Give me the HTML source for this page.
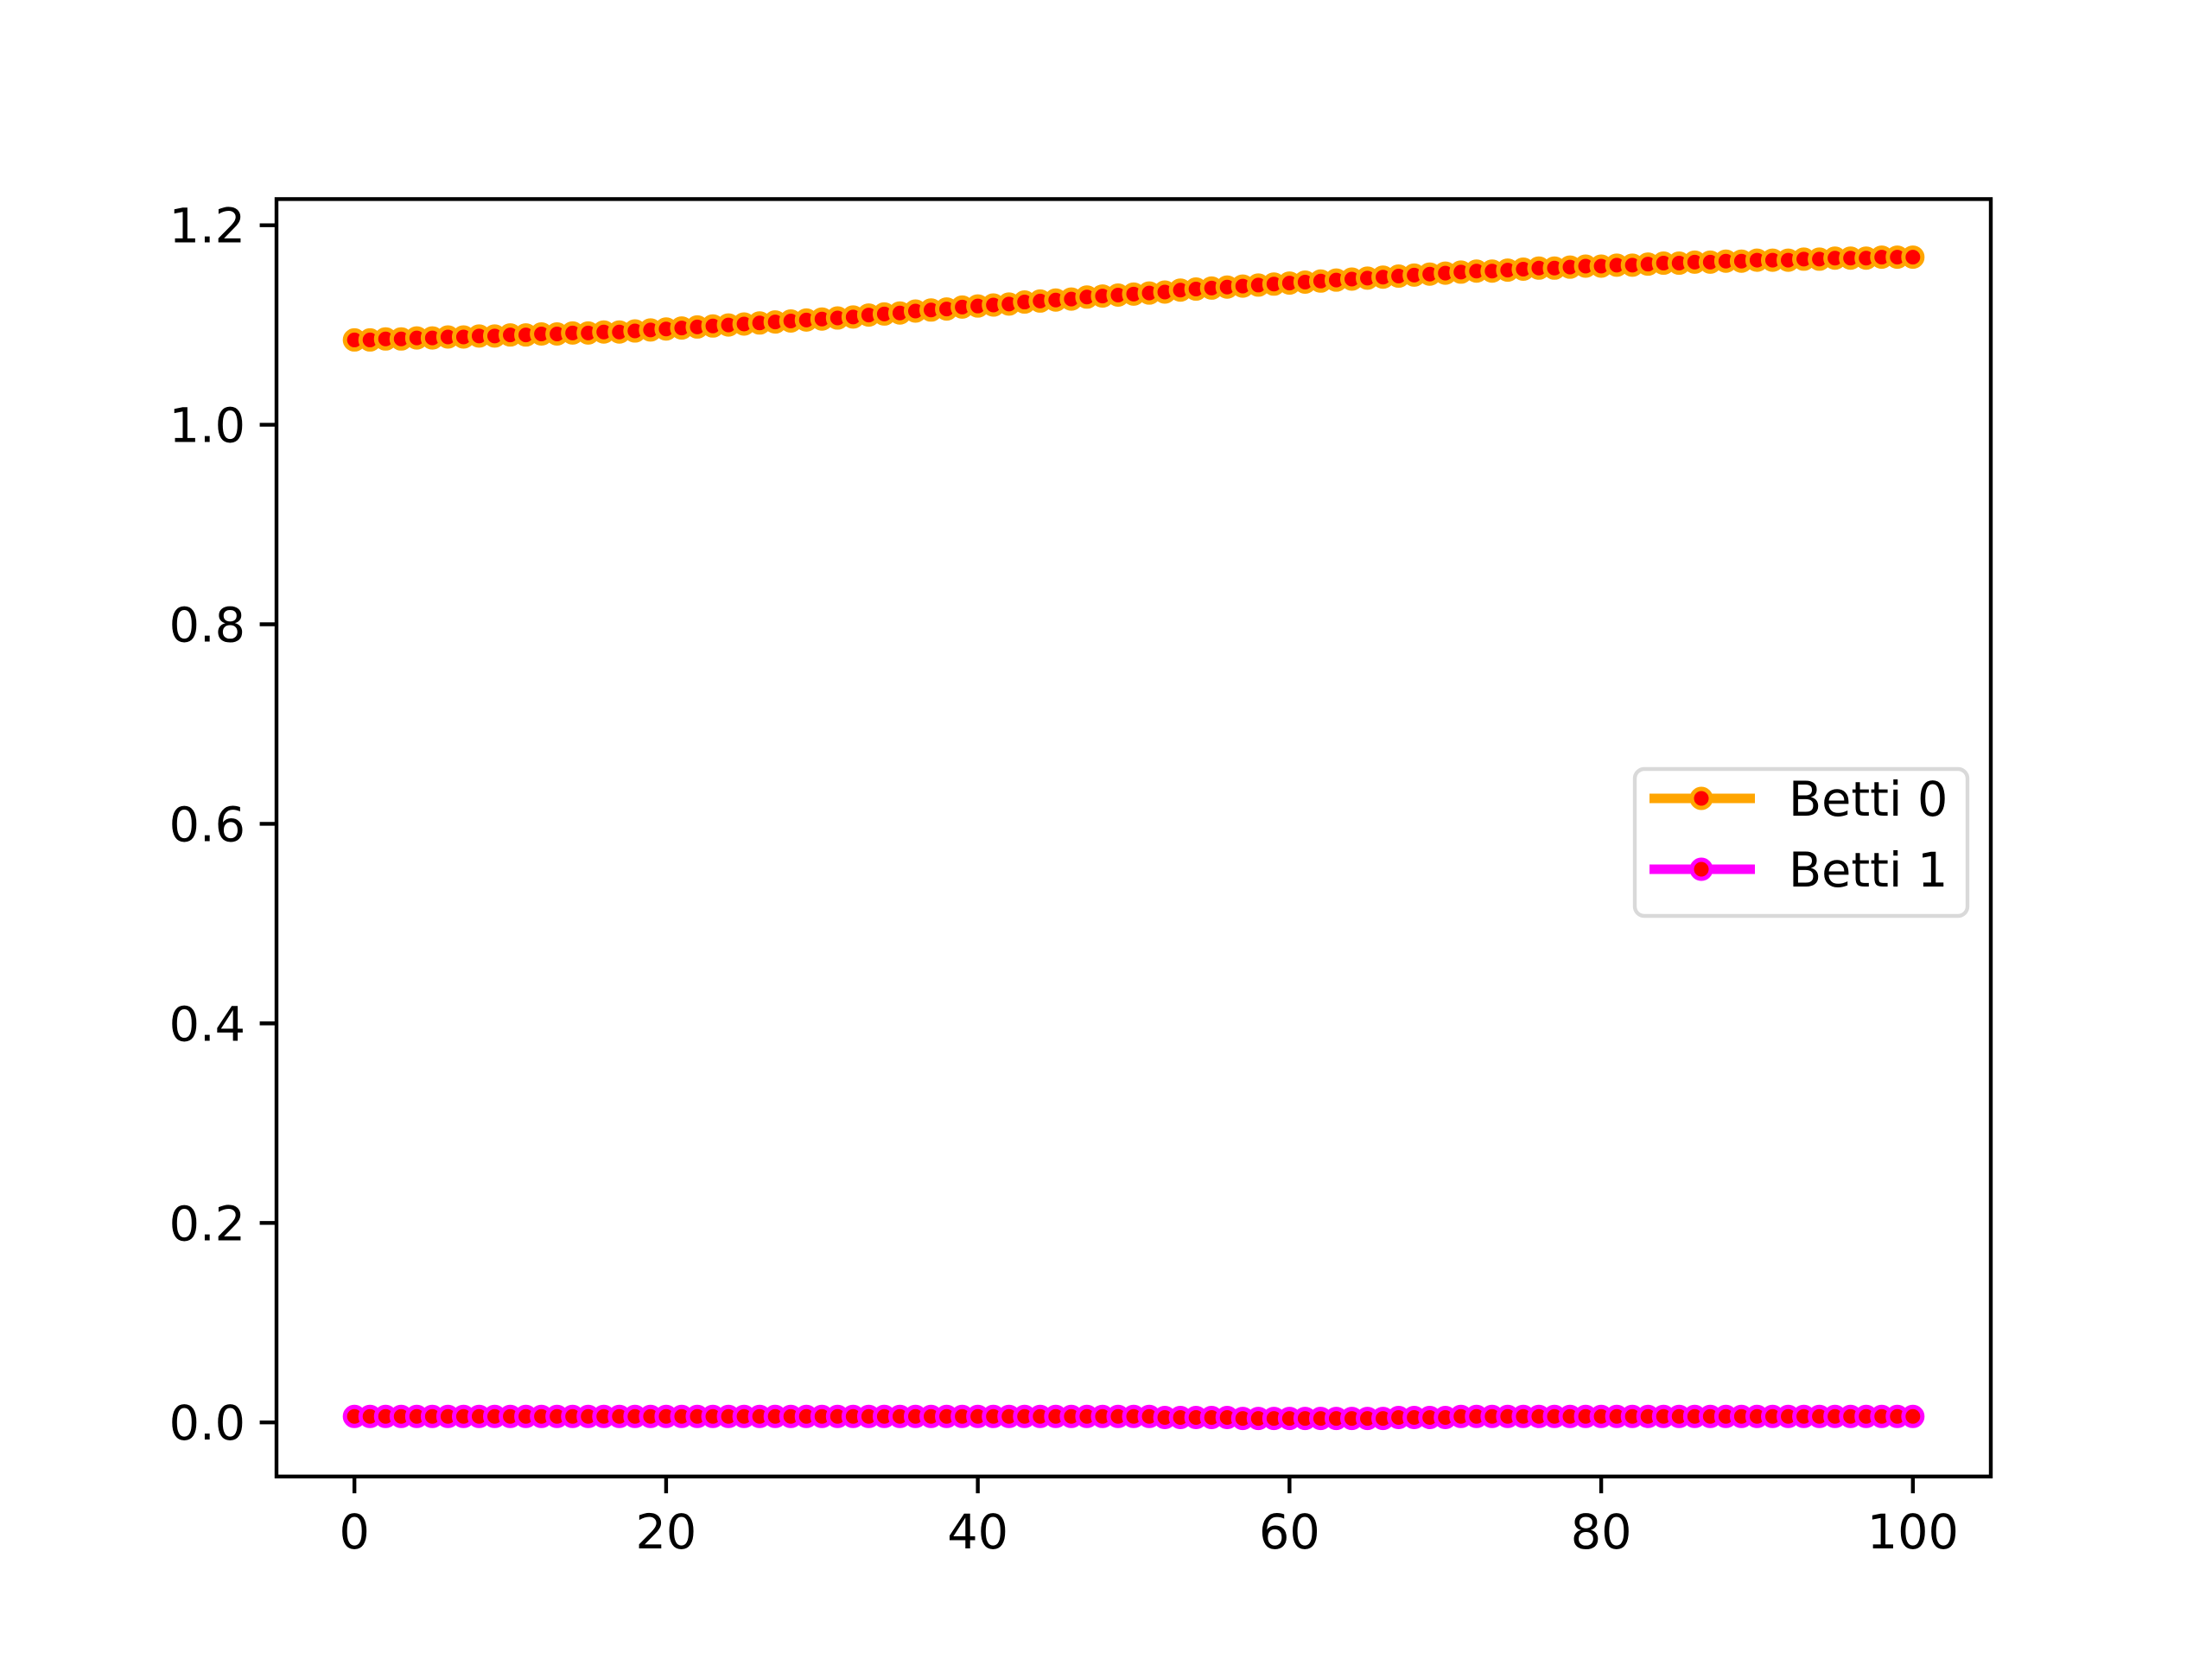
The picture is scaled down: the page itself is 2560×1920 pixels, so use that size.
<!DOCTYPE html>
<html><head><meta charset="utf-8"><style>
html,body{margin:0;padding:0;background:#fff}
svg{display:block}
text{font-family:"DejaVu Sans","Liberation Sans",sans-serif;fill:#000}
</style></head><body>
<svg id="chart" width="2560" height="1920" viewBox="0 0 2560 1920" xmlns="http://www.w3.org/2000/svg">
<rect width="2560" height="1920" fill="#fff"/>
<g id="plot"></g>
</svg>
<script>
const xTicks = [0,20,40,60,80,100];
const yTicks = [0.0,0.2,0.4,0.6,0.8,1.0,1.2];
const yTickLabels = ["0.0","0.2","0.4","0.6","0.8","1.0","1.2"];
const seriesNames = ["Betti 0","Betti 1"];
const betti0 = [1.085,1.085,1.086,1.086,1.087,1.087,1.088,1.088,1.089,1.089,1.090,
1.090,1.091,1.091,1.092,1.092,1.093,1.093,1.094,1.095,1.096,
1.097,1.098,1.099,1.100,1.101,1.102,1.103,1.104,1.105,1.106,
1.107,1.108,1.110,1.111,1.112,1.114,1.115,1.116,1.118,1.119,
1.120,1.121,1.123,1.124,1.125,1.126,1.128,1.129,1.130,1.131,
1.132,1.133,1.135,1.136,1.137,1.138,1.139,1.140,1.141,1.142,
1.143,1.144,1.145,1.146,1.147,1.148,1.149,1.150,1.151,1.152,
1.153,1.154,1.154,1.155,1.156,1.157,1.157,1.158,1.159,1.159,
1.160,1.160,1.161,1.162,1.162,1.163,1.163,1.164,1.164,1.165,
1.165,1.165,1.166,1.166,1.167,1.167,1.167,1.168,1.168,1.168];
const betti1 = [0.006,0.006,0.006,0.006,0.006,0.006,0.006,0.006,0.006,0.006,0.006,
0.006,0.006,0.006,0.006,0.006,0.006,0.006,0.006,0.006,0.006,
0.006,0.006,0.006,0.006,0.006,0.006,0.006,0.006,0.006,0.006,
0.006,0.006,0.006,0.006,0.006,0.006,0.006,0.006,0.006,0.006,
0.006,0.006,0.006,0.006,0.006,0.006,0.006,0.006,0.006,0.006,
0.006,0.005,0.005,0.005,0.005,0.005,0.004,0.004,0.004,0.004,
0.004,0.004,0.004,0.004,0.004,0.004,0.005,0.005,0.005,0.005,
0.006,0.006,0.006,0.006,0.006,0.006,0.006,0.006,0.006,0.006,
0.006,0.006,0.006,0.006,0.006,0.006,0.006,0.006,0.006,0.006,
0.006,0.006,0.006,0.006,0.006,0.006,0.006,0.006,0.006,0.006];

const NS="http://www.w3.org/2000/svg";
const L=320,R=2304,T=230.4,B=1708.8;
const xMin=-5,xMax=105;
const allY=betti0.concat(betti1);
const dMin=Math.min(...allY),dMax=Math.max(...allY),pad=(dMax-dMin)*0.05;
const yMin=dMin-pad,yMax=dMax+pad;
const sx=v=>L+(v-xMin)/(xMax-xMin)*(R-L);
const sy=v=>B-(v-yMin)/(yMax-yMin)*(B-T);
const g=document.getElementById('plot');
function mk(tag,attrs,parent){const e=document.createElementNS(NS,tag);for(const k in attrs)e.setAttribute(k,attrs[k]);(parent||g).appendChild(e);return e;}

const series=[{vals:betti0,color:"#ffa500"},{vals:betti1,color:"#ff00ff"}];
series.forEach((s,si)=>{
  const pts=s.vals.map((v,i)=>sx(i).toFixed(2)+","+sy(v).toFixed(2)).join(" ");
  const line=mk('polyline',{points:pts,fill:"none",stroke:s.color,"stroke-width":11});
  
  
  s.vals.forEach((v,i)=>{
    const c=mk('circle',{cx:sx(i),cy:sy(v),r:11,fill:"#ff0000",stroke:s.color,"stroke-width":5});
    
    
  });
});

const frame=mk('rect',{x:L,y:T,width:R-L,height:B-T,fill:"none",stroke:"#000","stroke-width":4.4});



xTicks.forEach(t=>{
  const x=sx(t);
  const tk=mk('line',{x1:x,x2:x,y1:B,y2:B+19.4,stroke:"#000","stroke-width":4.4});
  
  
  const tx=mk('text',{x:x,y:B+83,"text-anchor":"middle","font-size":55.6});
  tx.textContent=String(t);
  
  
});
yTicks.forEach((t,i)=>{
  const y=sy(t);
  const tk=mk('line',{x1:L-19.4,x2:L,y1:y,y2:y,stroke:"#000","stroke-width":4.4});
  
  
  const tx=mk('text',{x:L-36,y:y+20,"text-anchor":"end","font-size":55.6});
  tx.textContent=yTickLabels[i];
  
  
});

const lg=mk('g',{});


mk('rect',{x:1892,y:890,width:385,height:170,rx:11,fill:"#fff","fill-opacity":0.8,stroke:"#d9d9d9","stroke-width":4.4},lg);
seriesNames.forEach((n,i)=>{
  const y=924+i*82;
  const e=mk('g',{},lg);
  
  
  mk('line',{x1:1909,x2:2031,y1:y,y2:y,stroke:series[i].color,"stroke-width":11},e);
  mk('circle',{cx:1969,cy:y,r:11,fill:"#ff0000",stroke:series[i].color,"stroke-width":5},e);
  const tx=mk('text',{x:2070,y:y+20,"font-size":55.6},e);
  tx.textContent=n;
});
</script>
</body></html>
